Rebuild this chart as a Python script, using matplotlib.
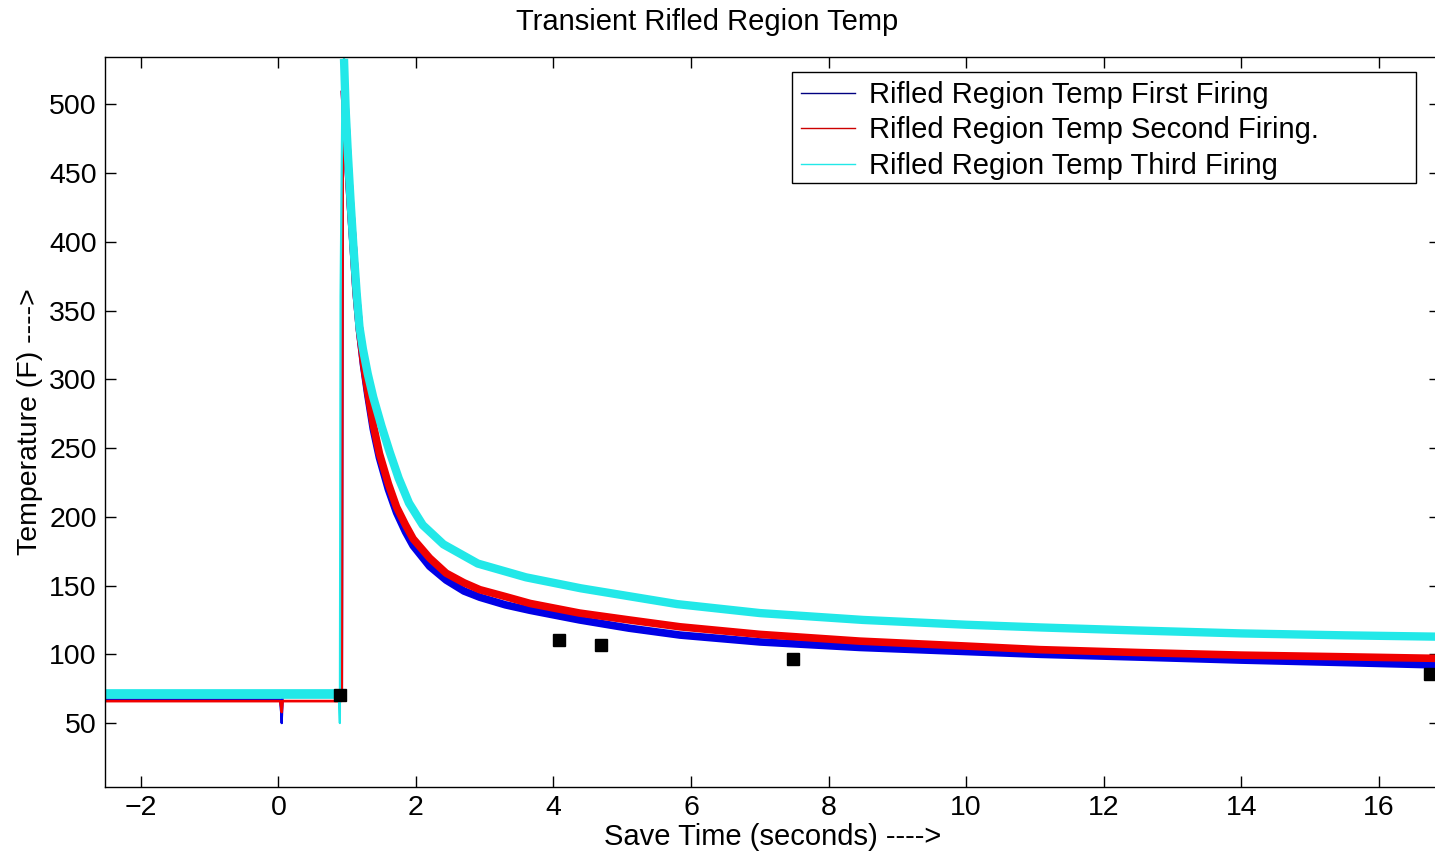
import numpy as np
import matplotlib
matplotlib.use("Agg")
import matplotlib.pyplot as plt
from matplotlib.lines import Line2D
from matplotlib.patches import Rectangle

plt.rcParams['font.family'] = ['Liberation Sans', 'DejaVu Sans']

# ---------------- data ----------------
t_first = [-2.52, 0.03, 0.05, 0.06, 0.10, 0.90, 0.925, 0.94, 0.96, 1.01, 1.05, 1.09, 1.13, 1.18,
           1.24, 1.30, 1.38, 1.47, 1.60, 1.72, 1.85, 1.96, 2.20, 2.44, 2.70, 2.93, 3.30,
           3.66, 4.38, 5.10, 5.84, 7.00, 8.45, 10.0, 11.07, 12.5, 14.0, 15.5, 16.9]
v_first = [67, 67, 50, 70, 72, 72, 72, 470, 510, 459, 425, 396, 364, 336,
           310, 289, 264, 243, 220, 203, 189, 179, 164, 154, 146, 141.5, 136,
           132, 125, 119, 114, 109, 105, 102, 100, 98, 95.8, 94, 92.2]

t_second = [-2.52, 0.03, 0.05, 0.06, 0.90, 0.925, 0.94, 0.96, 1.01, 1.05, 1.09, 1.13, 1.18,
            1.24, 1.30, 1.38, 1.47, 1.60, 1.72, 1.85, 1.96, 2.20, 2.44, 2.70, 2.93, 3.30,
            3.66, 4.38, 5.10, 5.84, 7.00, 8.45, 10.0, 11.07, 12.5, 14.0, 15.5, 16.9]
v_second = [66, 66, 58, 66, 66, 66, 470, 510, 459, 425, 396, 364, 336,
            311, 291, 267, 246, 224, 207, 194, 184, 170, 159, 152, 147, 142,
            137, 130, 125, 120, 114.5, 109.6, 106, 103.4, 101.3, 99.4, 98.2, 97]

t_third = [-2.52, 0.88, 0.895, 0.905, 0.93, 0.955, 0.98, 1.01, 1.05, 1.09, 1.14, 1.18, 1.23,
           1.30, 1.38, 1.50, 1.62, 1.75, 1.90, 2.10, 2.40, 2.90, 3.60, 4.40, 5.80,
           7.00, 8.50, 10.0, 11.1, 12.5, 14.0, 15.5, 16.9]
v_third = [71, 71, 50, 360, 500, 533, 495, 465, 430, 398, 362, 338, 322,
           304, 287, 266, 247, 228, 210, 194, 180, 166, 156, 148, 136.5,
           130, 125, 121.5, 119.5, 117.3, 115.2, 113.8, 112.8]

marker_t = [0.89, 4.08, 4.69, 7.48, 16.74]
marker_v = [70.4, 110.4, 106.7, 96.5, 85.5]

series_labels = ['Rifled Region Temp First Firing',
                 'Rifled Region Temp Second Firing.',
                 'Rifled Region Temp Third Firing']
xticks = [-2, 0, 2, 4, 6, 8, 10, 12, 14, 16]
yticks = [50, 100, 150, 200, 250, 300, 350, 400, 450, 500]

# ---------------- figure ----------------
W, H = 1435, 851
fig = plt.figure(figsize=(W / 100, H / 100), dpi=100)
ax = fig.add_axes([105 / W, 1 - 787 / H, 1335 / W, (787 - 57) / H])

colors = ['#0000e6', '#f00000', '#22e8e8']
series = [(t_first, v_first), (t_second, v_second), (t_third, v_third)]
rise_idx = [(6, 8), (4, 7), (1, 5)]      # vertical rise segment (drawn thin)
base_lw = [1.6, 1.8, 7.0]                  # baseline band width
decay_lw = [5.5, 5.5, 6.0]                 # decay band width

for (t, v), c, (i0, i1), blw, dlw in zip(series, colors, rise_idx, base_lw, decay_lw):
    t = np.asarray(t); v = np.asarray(v)
    ax.plot(t[:i1 + 1], v[:i1 + 1], color=c, lw=1.6)
    ax.plot(t[:i0 + 1], v[:i0 + 1], color=c, lw=blw, solid_capstyle='butt')
    ax.plot(t[i1:], v[i1:], color=c, lw=dlw, solid_capstyle='butt',
            solid_joinstyle='round')

ax.plot(marker_t, marker_v, 's', color='black', ms=8.5, clip_on=False, zorder=3)

ax.set_xlim(-2.52, 16.89)
ax.set_ylim(3.5, 534.4)
ax.set_xticks(xticks)
ax.set_yticks(yticks)
ax.tick_params(direction='in', length=8, width=1.0, top=True, right=True,
               labelsize=20.5, pad=6)
for s in ax.spines.values():
    s.set_linewidth(1.0)

ax.set_xlabel('Save Time (seconds) ---->', fontsize=21, labelpad=1)
ax.set_ylabel('Temperature (F) ---->', fontsize=20.5, labelpad=4)
fig.text(707 / W, 1 - 22 / H, 'Transient Rifled Region Temp', fontsize=21,
         ha='center', va='center')

# legend box (MATLAB style, wider than its text)
ax.add_patch(Rectangle((792 / W, 1 - 183 / H), (1416 - 792) / W, (183 - 72) / H,
                       transform=fig.transFigure, facecolor='white',
                       edgecolor='black', lw=1.0, zorder=4.5, clip_on=False))
handles = [Line2D([], [], color=c, lw=1.0) for c in ['#000080', '#cc0000', '#22e8e8']]
leg = ax.legend(handles, series_labels, loc='upper left',
                bbox_to_anchor=(792 / W, 1 - 72 / H), bbox_transform=fig.transFigure,
                fontsize=21, frameon=False, borderpad=0.3, labelspacing=0.26,
                handlelength=1.85, handletextpad=0.5, borderaxespad=0)
leg.set_zorder(5)

fig.savefig('out.png', dpi=100)
